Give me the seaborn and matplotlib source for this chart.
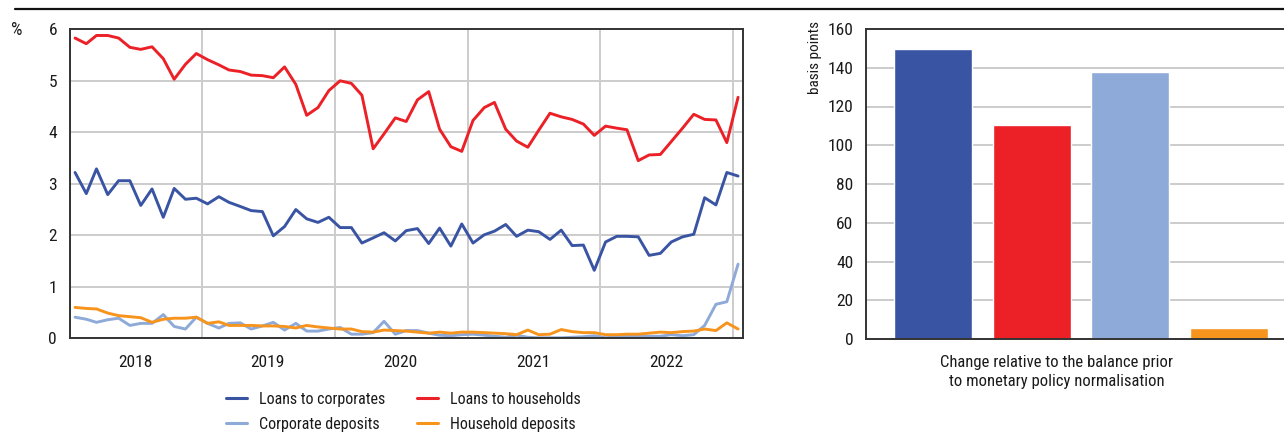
import numpy as np
import pandas as pd
import matplotlib
matplotlib.use('Agg')
import matplotlib.pyplot as plt
import matplotlib.dates as mdates
from matplotlib.lines import Line2D
import seaborn as sns

# monthly observations, Jan 2018 - Jan 2023 (plotted mid-month)
months = pd.date_range('2018-01-01', periods=61, freq='MS') + pd.Timedelta(days=15)

loans_corporates = [
    3.22, 2.81, 3.29, 2.79, 3.06, 3.06, 2.58, 2.90, 2.35, 2.91,
    2.70, 2.72, 2.61, 2.75, 2.64, 2.56, 2.48, 2.46, 1.99, 2.17,
    2.50, 2.32, 2.25, 2.35, 2.15, 2.15, 1.85, 1.95, 2.05, 1.89,
    2.09, 2.13, 1.84, 2.14, 1.79, 2.22, 1.85, 2.01, 2.08, 2.21,
    1.98, 2.10, 2.07, 1.92, 2.10, 1.80, 1.81, 1.32, 1.87, 1.98,
    1.98, 1.97, 1.61, 1.65, 1.87, 1.97, 2.02, 2.73, 2.59, 3.22,
    3.15]
loans_households = [
    5.83, 5.72, 5.88, 5.88, 5.83, 5.65, 5.61, 5.66, 5.43, 5.03,
    5.32, 5.53, 5.41, 5.31, 5.21, 5.18, 5.11, 5.10, 5.06, 5.27,
    4.93, 4.33, 4.48, 4.81, 5.00, 4.95, 4.72, 3.68, 3.97, 4.28,
    4.21, 4.63, 4.79, 4.06, 3.72, 3.63, 4.23, 4.48, 4.58, 4.06,
    3.83, 3.71, 4.04, 4.37, 4.30, 4.25, 4.16, 3.94, 4.12, 4.08,
    4.05, 3.45, 3.56, 3.57, 3.82, 4.08, 4.35, 4.25, 4.24, 3.80,
    4.68]
corporate_deposits = [
    0.41, 0.37, 0.31, 0.36, 0.39, 0.25, 0.29, 0.29, 0.46, 0.23,
    0.18, 0.41, 0.29, 0.20, 0.29, 0.30, 0.18, 0.24, 0.31, 0.16,
    0.29, 0.14, 0.14, 0.18, 0.21, 0.08, 0.08, 0.11, 0.33, 0.08,
    0.15, 0.15, 0.10, 0.06, 0.05, 0.07, 0.08, 0.06, 0.04, 0.02,
    0.06, 0.02, 0.01, 0.01, 0.01, 0.02, 0.03, 0.05, 0.01, 0.03,
    0.04, 0.04, 0.04, 0.04, 0.07, 0.05, 0.07, 0.25, 0.66, 0.71,
    1.44]
household_deposits = [
    0.60, 0.58, 0.57, 0.49, 0.44, 0.42, 0.40, 0.31, 0.37, 0.39,
    0.39, 0.41, 0.29, 0.32, 0.25, 0.25, 0.25, 0.24, 0.24, 0.23,
    0.20, 0.25, 0.22, 0.20, 0.18, 0.18, 0.13, 0.12, 0.16, 0.15,
    0.14, 0.12, 0.10, 0.12, 0.10, 0.12, 0.12, 0.11, 0.10, 0.09,
    0.07, 0.16, 0.07, 0.08, 0.17, 0.13, 0.11, 0.11, 0.07, 0.07,
    0.08, 0.08, 0.10, 0.12, 0.11, 0.13, 0.14, 0.18, 0.15, 0.30,
    0.18]

series_names = ['Loans to corporates', 'Loans to households',
                'Corporate deposits', 'Household deposits']
series_colors = ['#3A54A4', '#EC2027', '#8EAAD8', '#F7941D']

# change relative to the balance prior to monetary policy normalisation (bp)
bar_values = [149.7, 110.4, 137.8, 5.7]

sns.set_theme(style='white')
# narrow sans; falls back to DejaVu Sans (condensed face) if missing
plt.rcParams['font.family'] = ['Roboto Condensed', 'DejaVu Sans']
plt.rcParams['font.stretch'] = 'condensed'
plt.rcParams['text.color'] = '#1a1a1a'
plt.rcParams['xtick.color'] = '#1a1a1a'
plt.rcParams['ytick.color'] = '#1a1a1a'

df = pd.DataFrame({
    'month': np.tile(months, 4),
    'value': np.concatenate([corporate_deposits, household_deposits,
                             loans_corporates, loans_households]),
    'series': np.repeat(['Corporate deposits', 'Household deposits',
                         'Loans to corporates', 'Loans to households'], 61),
})
palette = dict(zip(series_names, series_colors))

fig = plt.figure(figsize=(12.84, 4.32), dpi=100)
W, H = 1284, 432

# left panel: lines
ax = fig.add_axes([69.6 / W, 1 - 338.3 / H, (742.8 - 69.6) / W, (338.3 - 29.3) / H])
sns.lineplot(data=df, x='month', y='value', hue='series', palette=palette,
             linewidth=2.1, ax=ax, legend=False)
ax.set_xlim(pd.Timestamp('2018-01-01'), pd.Timestamp('2023-01-29'))
ax.set_ylim(0, 6)
ax.set_yticks(range(0, 7))
ax.xaxis.set_major_locator(mdates.YearLocator())
ax.xaxis.set_major_formatter(plt.NullFormatter())
ax.xaxis.set_minor_locator(mdates.MonthLocator(bymonth=7, bymonthday=1))
ax.xaxis.set_minor_formatter(mdates.DateFormatter('%Y'))
ax.grid(True, which='major', color='#cccccc', linewidth=1.4)
ax.set_axisbelow(True)
ax.tick_params(axis='both', which='both', length=0, labelsize=12.5)
ax.tick_params(axis='y', pad=9)
ax.tick_params(axis='x', which='minor', pad=12)
ax.set_xlabel('')
ax.set_ylabel('')
for s in ax.spines.values():
    s.set_color('#333333')
    s.set_linewidth(1.4)
fig.text(17 / W, 1 - 30 / H, '%', fontsize=13, ha='center', va='center')

# right panel: bars
ax2 = fig.add_axes([866 / W, 1 - 339 / H, (W - 866) / W, (339 - 29) / H])
sns.barplot(x=series_names, y=bar_values, hue=series_names, palette=palette,
            width=0.79, saturation=1, legend=False, ax=ax2)
ax2.set_xlim(-0.68, 3.56)
ax2.set_ylim(0, 160)
ax2.set_yticks(range(0, 161, 20))
ax2.set_xticks([])
ax2.yaxis.grid(True, color='#cccccc', linewidth=1.4)
ax2.set_axisbelow(True)
ax2.tick_params(axis='y', length=0, labelsize=12.5, pad=9)
ax2.set_xlabel('')
ax2.set_ylabel('')
ax2.spines['right'].set_visible(False)
for k in ['left', 'bottom', 'top']:
    ax2.spines[k].set_color('#333333')
    ax2.spines[k].set_linewidth(1.4)
fig.text(815 / W, 1 - 21 / H, 'basis points', rotation=90, fontsize=11,
         ha='center', va='top')
fig.text(1057 / W, 1 - 372 / H,
         'Change relative to the balance prior\nto monetary policy normalisation',
         fontsize=12, ha='center', va='center', linespacing=1.3)

# top rule
fig.add_artist(Line2D([15 / W, 1], [1 - 9 / H, 1 - 9 / H], color='#111111',
                      linewidth=1.6, transform=fig.transFigure))

# legend
handles = [Line2D([], [], color=palette[n], linewidth=2.2) for n in
           ['Loans to corporates', 'Corporate deposits',
            'Loans to households', 'Household deposits']]
labels = ['Loans to corporates', 'Corporate deposits',
          'Loans to households', 'Household deposits']
fig.legend(handles, labels, ncol=2, loc='upper left',
           bbox_to_anchor=(226 / W, 1 - 392 / H), frameon=False,
           fontsize=11.5, handlelength=1.3, handletextpad=0.75,
           columnspacing=2.0, labelspacing=0.6, borderpad=0, borderaxespad=0)

fig.savefig('out.png', dpi=100)
